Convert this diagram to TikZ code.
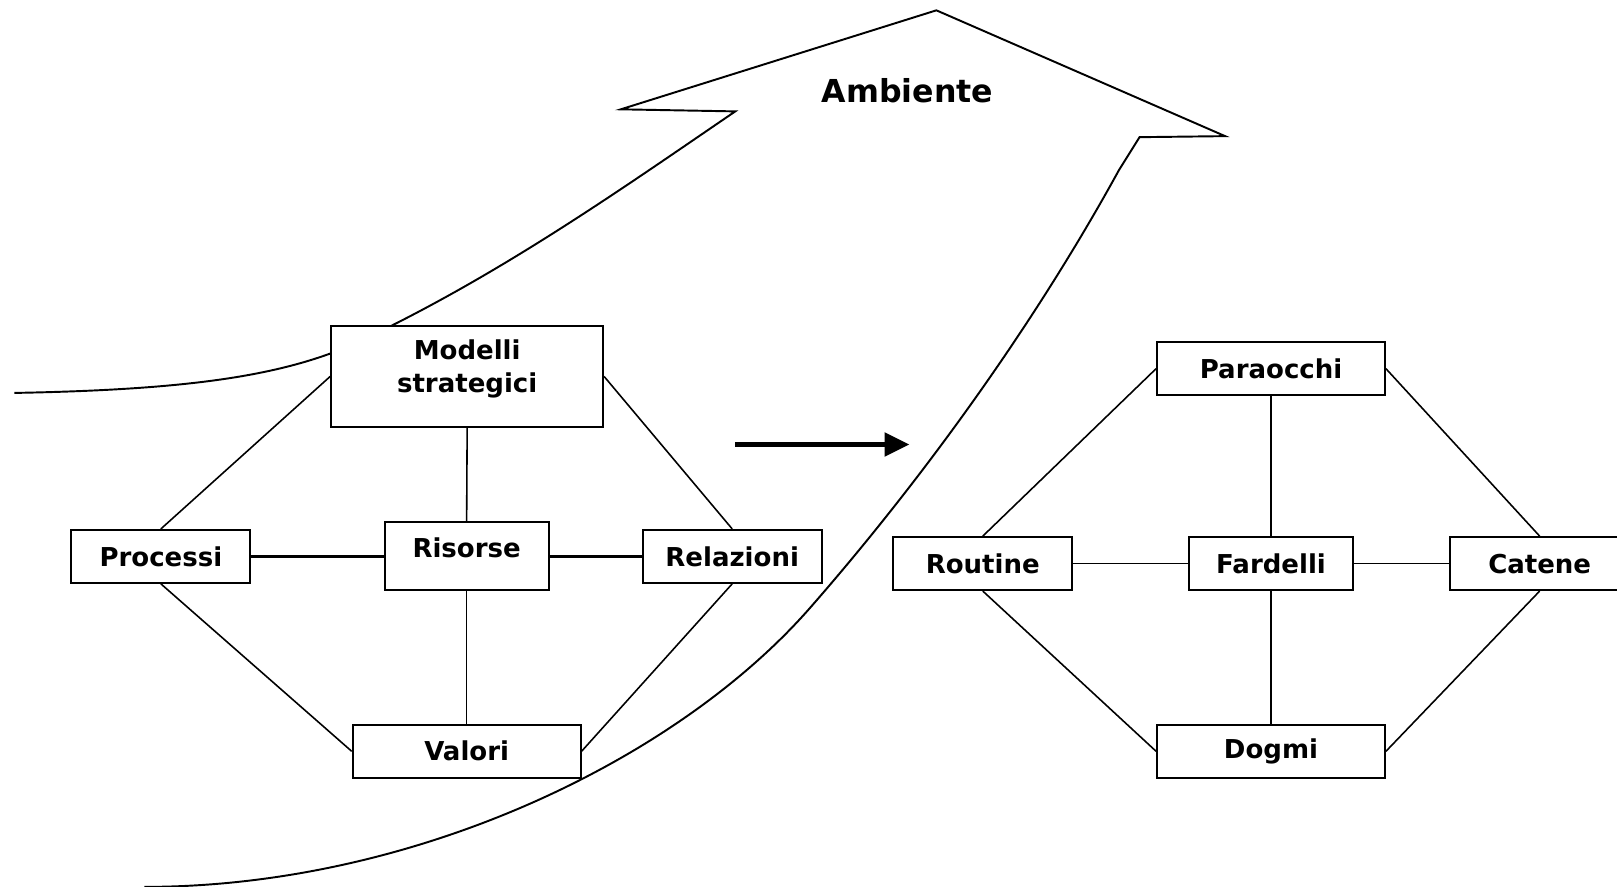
\documentclass[tikz,border=0pt]{standalone}
\usepackage{fontspec}
\setmainfont{DejaVu Sans}
\usetikzlibrary{arrows.meta}

\begin{document}
\begin{tikzpicture}[x=0.0103125cm, y=-0.0103125cm,
	box/.style={draw, fill=white, line width=0.55pt, inner sep=0pt, align=center,
		minimum height=\boxh, font=\fontsize{7.4}{9.6}\selectfont\bfseries},
	link/.style={line width=0.45pt},
	wide link/.style={line width=0.9pt}]
	\useasboundingbox (0,0) rectangle (1568,860);

	\newcommand*{\boxh}{0.53cm} % box height

	% the environment arrow
	\draw[line width=0.55pt] (14,381) .. controls (180,378) and (270,365) .. (340,335)
		.. controls (480,270) and (600,185) .. (713,108) -- (602,106) -- (908,10)
		-- (1188,132) -- (1105,133) -- (1085,165)
		.. controls (1000,320) and (890,470) .. (785,590)
		.. controls (655,738) and (400,860) .. (140,860);
	\node[font=\fontsize{9}{11}\selectfont\bfseries] (ambiente) at (880,88) {Ambiente};

	% left: the firm
	\node[box, minimum width=2.72cm, minimum height=1.01cm, text depth=5.9pt] (modelli) at (453,365) {Modelli\\strategici};
	\node[box, minimum width=1.79cm] (processi) at (156,539.5) {Processi};
	\node[box, minimum width=1.64cm, minimum height=0.68cm, text depth=4.7pt] (risorse) at (452.5,539.5) {Risorse};
	\node[box, minimum width=1.79cm] (relazioni) at (710,539.5) {Relazioni};
	\node[box, minimum width=2.28cm] (valori) at (452.5,728.5) {Valori};

	\draw[link] (modelli.west) -- (processi.north);
	\draw[link] (modelli.east) -- (relazioni.north);
	\draw[link] (modelli.south) -- (risorse.north);
	\draw[wide link] (processi.east) -- (risorse.west);
	\draw[wide link] (risorse.east) -- (relazioni.west);
	\draw[link] (risorse.south) -- (valori.north);
	\draw[link] (processi.south) -- (valori.west);
	\draw[link] (relazioni.south) -- (valori.east);

	% right: what it becomes
	\node[box, minimum width=2.28cm] (paraocchi) at (1232.5,357.5) {Paraocchi};
	\node[box, minimum width=1.79cm] (routine) at (953,546.5) {Routine};
	\node[box, minimum width=1.64cm] (fardelli) at (1232.5,546.5) {Fardelli};
	\node[box, minimum width=1.79cm] (catene) at (1493,546.5) {Catene};
	\node[box, minimum width=2.28cm] (dogmi) at (1232.5,728.5) {Dogmi};

	\draw[link] (paraocchi.west) -- (routine.north);
	\draw[link] (paraocchi.east) -- (catene.north);
	\draw[link] (paraocchi.south) -- (fardelli.north);
	\draw[link] (routine.east) -- (fardelli.west);
	\draw[link] (fardelli.east) -- (catene.west);
	\draw[link] (fardelli.south) -- (dogmi.north);
	\draw[link] (routine.south) -- (dogmi.west);
	\draw[link] (catene.south) -- (dogmi.east);

	\coordinate (shift a) at (713,431);
	\coordinate (shift b) at (882,431);
	\draw[line width=1.5pt, -{Triangle[length=2.5mm, width=2.3mm]}] (shift a) -- (shift b);

\end{tikzpicture}
\end{document}
